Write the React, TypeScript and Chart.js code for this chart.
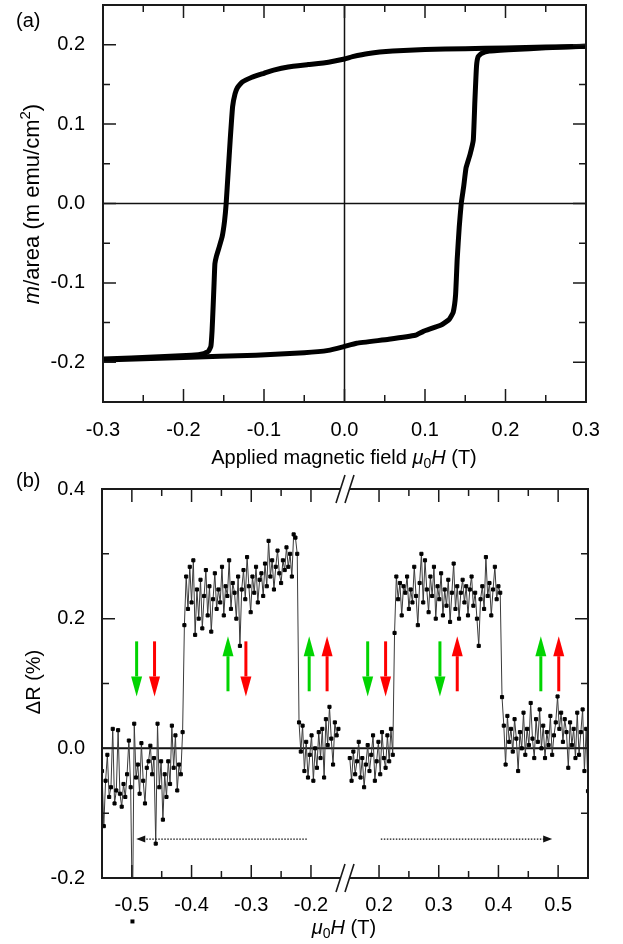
import React, { useEffect, useRef } from 'react';
import { Chart, registerables } from 'chart.js';
Chart.register(...registerables);

const FONT = '"Liberation Sans", Arial, Helvetica, sans-serif';
const TICK_SIZE = 20;
const TITLE_SIZE = 20;

// ---------- Panel (a): hysteresis loop ----------
const loopDownField = [0.3, 0.25, 0.2, 0.15, 0.1, 0.06, 0.03, 0.01, 0.0, -0.02, -0.045, -0.07, -0.088, -0.1, -0.115, -0.127, -0.133, -0.136, -0.139, -0.142, -0.1445, -0.147, -0.149, -0.152, -0.156, -0.159, -0.161, -0.162, -0.1632, -0.1645, -0.166, -0.169, -0.175, -0.19, -0.23, -0.3];
const loopDownMoment = [0.198, 0.197, 0.196, 0.195, 0.194, 0.192, 0.189, 0.185, 0.182, 0.178, 0.175, 0.172, 0.168, 0.164, 0.159, 0.153, 0.146, 0.138, 0.122, 0.08, 0.04, 0.0, -0.022, -0.042, -0.056, -0.066, -0.076, -0.1, -0.13, -0.16, -0.18, -0.186, -0.189, -0.191, -0.193, -0.196];
const loopUpField = [-0.3, -0.2, -0.11, -0.05, -0.02, 0.0, 0.015, 0.055, 0.088, 0.098, 0.12, 0.13, 0.135, 0.138, 0.14, 0.1425, 0.145, 0.148, 0.151, 0.156, 0.16, 0.162, 0.164, 0.166, 0.17, 0.18, 0.21, 0.25, 0.3];
const loopUpMoment = [-0.197, -0.194, -0.191, -0.188, -0.185, -0.18, -0.176, -0.171, -0.166, -0.161, -0.153, -0.146, -0.137, -0.115, -0.07, -0.03, 0.0, 0.021, 0.045, 0.062, 0.08, 0.13, 0.173, 0.185, 0.189, 0.192, 0.194, 0.196, 0.198];
const fieldTicksA = [-0.3, -0.2, -0.1, 0, 0.1, 0.2, 0.3];
const fieldMinorA = [-0.25, -0.15, -0.05, 0.05, 0.15, 0.25];
const momentTicksA = [-0.2, -0.1, 0, 0.1, 0.2];
const momentMinorA = [-0.15, -0.05, 0.05, 0.15];

// ---------- Panel (b): magnetoresistance with broken field axis ----------
const negField = [
  -0.550, -0.547, -0.544, -0.541, -0.538, -0.535, -0.532, -0.529, -0.526, -0.523,
  -0.520, -0.517, -0.514, -0.511, -0.508, -0.505, -0.502, -0.499, -0.496, -0.493,
  -0.490, -0.487, -0.484, -0.481, -0.478, -0.475, -0.472, -0.469, -0.466, -0.463,
  -0.460, -0.457, -0.454, -0.451, -0.448, -0.445, -0.442, -0.439, -0.436, -0.433,
  -0.430, -0.427, -0.424, -0.421, -0.418, -0.415, -0.412, -0.409, -0.406, -0.403,
  -0.400, -0.397, -0.394, -0.391, -0.388, -0.385, -0.382, -0.379, -0.376, -0.373,
  -0.370, -0.367, -0.364, -0.361, -0.358, -0.355, -0.352, -0.349, -0.346, -0.343,
  -0.340, -0.337, -0.334, -0.331, -0.328, -0.325, -0.322, -0.319, -0.316, -0.313,
  -0.310, -0.307, -0.304, -0.301, -0.298, -0.295, -0.292, -0.289, -0.286, -0.283,
  -0.280, -0.277, -0.274, -0.271, -0.268, -0.265, -0.262, -0.259, -0.256, -0.253,
  -0.250, -0.247, -0.244, -0.241, -0.238, -0.235, -0.232, -0.229, -0.226, -0.223,
  -0.220, -0.217, -0.214, -0.211, -0.208, -0.205, -0.202, -0.199, -0.196, -0.193,
  -0.190, -0.187, -0.184, -0.181, -0.178, -0.175, -0.172, -0.169, -0.166, -0.163,
  -0.160, -0.157, -0.154,
];
const negDeltaR = [
  -0.035, -0.120, -0.050, -0.010, -0.075, -0.060, 0.030, -0.085, -0.065, 0.028,
  -0.070, -0.090, -0.055, -0.075, -0.040, 0.012, -0.060, -0.267, 0.038, -0.045,
  -0.025, -0.070, 0.008, -0.050, -0.085, -0.030, -0.020, 0.004, -0.040, -0.015,
  -0.147, 0.038, -0.060, -0.020, -0.110, -0.040, -0.075, -0.020, -0.055, 0.035,
  -0.030, 0.020, -0.065, -0.025, -0.040, 0.025, 0.190, 0.265, 0.215, 0.280,
  0.225, 0.290, 0.175, 0.245, 0.200, 0.260, 0.185, 0.235, 0.275, 0.205,
  0.250, 0.180, 0.230, 0.270, 0.215, 0.245, 0.225, 0.280, 0.205, 0.250,
  0.235, 0.290, 0.215, 0.255, 0.240, 0.200, 0.265, 0.158, 0.245, 0.275,
  0.230, 0.295, 0.250, 0.210, 0.265, 0.240, 0.280, 0.225, 0.260, 0.270,
  0.235, 0.285, 0.250, 0.320, 0.265, 0.290, 0.245, 0.280, 0.305, 0.270,
  0.255, 0.290, 0.275, 0.310, 0.280, 0.300, 0.265, 0.330, 0.325, 0.300,
  0.040, -0.005, 0.035, -0.035, 0.010, -0.045, -0.010, 0.020, -0.050, 0.000,
  -0.030, 0.025, -0.015, 0.030, -0.045, 0.045, 0.005, 0.064, 0.015, -0.025,
  0.040, 0.020, 0.030,
];
const posField = [
  0.151, 0.154, 0.157, 0.160, 0.163, 0.166, 0.169, 0.172, 0.175, 0.178,
  0.181, 0.184, 0.187, 0.190, 0.193, 0.196, 0.199, 0.202, 0.205, 0.208,
  0.211, 0.214, 0.217, 0.220, 0.223, 0.226, 0.229, 0.232, 0.235, 0.238,
  0.241, 0.244, 0.247, 0.250, 0.253, 0.256, 0.259, 0.262, 0.265, 0.268,
  0.271, 0.274, 0.277, 0.280, 0.283, 0.286, 0.289, 0.292, 0.295, 0.298,
  0.301, 0.304, 0.307, 0.310, 0.313, 0.316, 0.319, 0.322, 0.325, 0.328,
  0.331, 0.334, 0.337, 0.340, 0.343, 0.346, 0.349, 0.352, 0.355, 0.358,
  0.361, 0.364, 0.367, 0.370, 0.373, 0.376, 0.379, 0.382, 0.385, 0.388,
  0.391, 0.394, 0.397, 0.400, 0.403, 0.406, 0.409, 0.412, 0.415, 0.418,
  0.421, 0.424, 0.427, 0.430, 0.433, 0.436, 0.439, 0.442, 0.445, 0.448,
  0.451, 0.454, 0.457, 0.460, 0.463, 0.466, 0.469, 0.472, 0.475, 0.478,
  0.481, 0.484, 0.487, 0.490, 0.493, 0.496, 0.499, 0.502, 0.505, 0.508,
  0.511, 0.514, 0.517, 0.520, 0.523, 0.526, 0.529, 0.532, 0.535, 0.538,
  0.541, 0.544, 0.547, 0.550,
];
const posDeltaR = [
  -0.015, -0.050, -0.005, -0.040, -0.020, 0.010, -0.045, -0.015, -0.060, -0.025,
  0.005, -0.035, -0.010, 0.020, -0.050, -0.020, 0.010, -0.040, 0.025, -0.015,
  -0.030, 0.020, -0.020, 0.030, -0.010, 0.178, 0.265, 0.230, 0.255, 0.205,
  0.250, 0.240, 0.265, 0.215, 0.245, 0.225, 0.280, 0.235, 0.190, 0.255,
  0.300, 0.225, 0.290, 0.245, 0.210, 0.265, 0.235, 0.280, 0.200, 0.250,
  0.230, 0.270, 0.205, 0.245, 0.220, 0.260, 0.195, 0.240, 0.285, 0.215,
  0.250, 0.200, 0.240, 0.260, 0.225, 0.250, 0.205, 0.245, 0.265, 0.220,
  0.240, 0.200, 0.158, 0.230, 0.250, 0.215, 0.295, 0.235, 0.255, 0.205,
  0.245, 0.280, 0.230, 0.250, 0.240, 0.079, 0.035, -0.025, 0.050, 0.010,
  0.030, -0.005, 0.045, 0.015, -0.035, 0.025, 0.000, 0.055, -0.010, 0.030,
  0.005, 0.070, 0.015, -0.015, 0.045, 0.010, 0.060, 0.000, 0.035, -0.015,
  0.025, 0.005, 0.050, -0.010, 0.020, 0.040, 0.080, 0.030, 0.055, 0.010,
  0.045, 0.025, -0.030, 0.040, 0.005, 0.030, -0.015, 0.055, -0.010, 0.025,
  0.060, -0.035, 0.030, -0.066,
];
const outlierField = [-0.499];
const outlierDeltaR = [-0.267];
const fieldTicksB = [-0.5, -0.4, -0.3, -0.2, 0.2, 0.3, 0.4, 0.5];
const fieldMinorB = [-0.45, -0.35, -0.25, 0.25, 0.35, 0.45];
const deltaRTicks = [-0.2, 0.0, 0.2, 0.4];
const deltaRMinor = [-0.1, 0.1, 0.3];
const BREAK_GAP = 0.143; // field hidden on each side of the axis break
const FIELD_EDGE = 0.55;

// spin-configuration arrows (field position, colour, direction)
const arrowField = [-0.492, -0.462, -0.339, -0.309, -0.203, -0.173, 0.181, 0.211, 0.302, 0.331, 0.471, 0.501];
const arrowColor = ['g', 'r', 'g', 'r', 'g', 'r', 'g', 'r', 'g', 'r', 'g', 'r'];
const arrowDir = ['down', 'down', 'up', 'down', 'up', 'up', 'down', 'down', 'down', 'up', 'up', 'up'];
const arrowDownSpan = [0.165, 0.080];
const arrowUpSpan = [0.088, 0.173];
// sweep-direction dotted arrows
const sweepFrom = [-0.207, 0.203];
const sweepTo = [-0.4926, 0.49];
const sweepLevel = -0.14;

const toU = (x: number) => (x < 0 ? x + BREAK_GAP : x - BREAK_GAP);
const fromU = (u: number) => (u < 0 ? u - BREAK_GAP : u + BREAK_GAP);
const fmt1 = (v: number) => (Math.abs(v) < 1e-9 ? 0 : v).toFixed(1);

type Seg = { t: string; it?: boolean; sub?: boolean; sup?: boolean };

function drawRich(ctx: CanvasRenderingContext2D, segs: Seg[], x: number, y: number, size: number, rotate = false) {
  ctx.save();
  ctx.translate(x, y);
  if (rotate) ctx.rotate(-Math.PI / 2);
  const fontFor = (s: Seg) => `${s.it ? 'italic ' : ''}${s.sub || s.sup ? Math.round(size * 0.68) : size}px ${FONT}`;
  let w = 0;
  segs.forEach((s) => {
    ctx.font = fontFor(s);
    w += ctx.measureText(s.t).width;
  });
  let cx = -w / 2;
  ctx.textBaseline = 'alphabetic';
  ctx.textAlign = 'left';
  ctx.fillStyle = '#000';
  segs.forEach((s) => {
    ctx.font = fontFor(s);
    const dy = s.sub ? size * 0.22 : s.sup ? -size * 0.42 : 0;
    ctx.fillText(s.t, cx, dy);
    cx += ctx.measureText(s.t).width;
  });
  ctx.restore();
}

function drawFrameTicks(chart: any, xMajor: number[], xMinor: number[], yMajor: number[], yMinor: number[]) {
  const { ctx, chartArea: ca, scales } = chart;
  ctx.save();
  ctx.strokeStyle = '#1a1a1a';
  ctx.lineWidth = 1.5;
  ctx.beginPath();
  const xt = (v: number, len: number) => {
    const px = scales.x.getPixelForValue(v);
    ctx.moveTo(px, ca.bottom);
    ctx.lineTo(px, ca.bottom - len);
    ctx.moveTo(px, ca.top);
    ctx.lineTo(px, ca.top + len);
  };
  const yt = (v: number, len: number) => {
    const py = scales.y.getPixelForValue(v);
    ctx.moveTo(ca.left, py);
    ctx.lineTo(ca.left + len, py);
    ctx.moveTo(ca.right, py);
    ctx.lineTo(ca.right - len, py);
  };
  xMajor.forEach((v) => xt(v, 13));
  xMinor.forEach((v) => xt(v, 7));
  yMajor.forEach((v) => yt(v, 13));
  yMinor.forEach((v) => yt(v, 7));
  ctx.stroke();
  ctx.lineWidth = 2;
  ctx.strokeRect(ca.left, ca.top, ca.right - ca.left, ca.bottom - ca.top);
  ctx.restore();
}

function drawBreak(ctx: CanvasRenderingContext2D, px: number, y: number) {
  ctx.save();
  ctx.fillStyle = '#fff';
  ctx.fillRect(px - 4.5, y - 2, 9, 4);
  ctx.strokeStyle = '#1a1a1a';
  ctx.lineWidth = 1.6;
  ctx.beginPath();
  [-4.5, 4.5].forEach((dx) => {
    ctx.moveTo(px + dx - 4.5, y + 14);
    ctx.lineTo(px + dx + 4.5, y - 14);
  });
  ctx.stroke();
  ctx.restore();
}

function drawSpinArrow(ctx: CanvasRenderingContext2D, x: number, yTail: number, yTip: number, color: string) {
  const dir = yTip > yTail ? 1 : -1;
  const headLen = 20;
  const headHalf = 5.5;
  const shaft = 3;
  const yBase = yTip - dir * headLen;
  ctx.fillStyle = color;
  ctx.fillRect(x - shaft / 2, Math.min(yTail, yBase), shaft, Math.abs(yBase - yTail));
  ctx.beginPath();
  ctx.moveTo(x - headHalf, yBase);
  ctx.lineTo(x + headHalf, yBase);
  ctx.lineTo(x, yTip);
  ctx.closePath();
  ctx.fill();
}

const tickFont = { family: FONT, size: TICK_SIZE };

function configA(): any {
  const deco = {
    id: 'decoA',
    beforeDatasetsDraw(chart: any) {
      const { ctx, chartArea: ca, scales } = chart;
      ctx.save();
      ctx.strokeStyle = '#111';
      ctx.lineWidth = 1.5;
      const x0 = scales.x.getPixelForValue(0);
      const y0 = scales.y.getPixelForValue(0);
      ctx.beginPath();
      ctx.moveTo(x0, ca.top);
      ctx.lineTo(x0, ca.bottom);
      ctx.moveTo(ca.left, y0);
      ctx.lineTo(ca.right, y0);
      ctx.stroke();
      ctx.restore();
    },
    afterDraw(chart: any) {
      const { ctx } = chart;
      drawFrameTicks(chart, fieldTicksA, fieldMinorA, momentTicksA, momentMinorA);
      drawRich(ctx, [{ t: 'Applied magnetic field ' }, { t: 'μ', it: true }, { t: '0', sub: true }, { t: 'H', it: true }, { t: ' (T)' }], 344, 464, TITLE_SIZE);
      drawRich(ctx, [{ t: 'm', it: true }, { t: '/area (m emu/cm' }, { t: '2', sup: true }, { t: ')' }], 39, 204, 22, true);
      ctx.save();
      ctx.font = `${TITLE_SIZE}px ${FONT}`;
      ctx.fillStyle = '#000';
      ctx.textAlign = 'left';
      ctx.textBaseline = 'alphabetic';
      ctx.fillText('(a)', 16, 27);
      ctx.restore();
    },
  };
  const pts = (xs: number[], ys: number[]) => xs.map((x, i) => ({ x, y: ys[i] }));
  const line = {
    showLine: true,
    borderColor: '#000',
    borderWidth: 5,
    pointRadius: 0,
    tension: 0.12,
    borderJoinStyle: 'round',
    borderCapStyle: 'round',
  };
  return {
    type: 'scatter',
    data: {
      datasets: [
        { ...line, data: pts(loopDownField, loopDownMoment) },
        { ...line, data: pts(loopUpField, loopUpMoment) },
      ],
    },
    options: {
      responsive: false,
      animation: false,
      events: [],
      layout: { padding: { left: 0, right: 37, top: 5, bottom: 0 } },
      plugins: { legend: { display: false }, tooltip: { enabled: false } },
      scales: {
        x: {
          type: 'linear',
          min: -0.3,
          max: 0.3,
          grid: { display: false, drawTicks: false },
          border: { display: false },
          ticks: { font: tickFont, color: '#000', padding: 16, autoSkip: false, maxRotation: 0, minRotation: 0, callback: (v: any) => fmt1(Number(v)) },
          afterBuildTicks: (s: any) => { s.ticks = fieldTicksA.map((v) => ({ value: v })); },
          afterFit: (s: any) => { s.height = 73; s.paddingLeft = 0; s.paddingRight = 0; },
        },
        y: {
          type: 'linear',
          min: -0.25,
          max: 0.25,
          grid: { display: false, drawTicks: false },
          border: { display: false },
          ticks: { font: tickFont, color: '#000', padding: 18, autoSkip: false, callback: (v: any) => fmt1(Number(v)) },
          afterBuildTicks: (s: any) => { s.ticks = momentTicksA.map((v) => ({ value: v })); },
          afterFit: (s: any) => { s.width = 103; s.paddingTop = 0; s.paddingBottom = 0; },
        },
      },
    },
    plugins: [deco],
  };
}

function configB(): any {
  const deco = {
    id: 'decoB',
    beforeDatasetsDraw(chart: any) {
      const { ctx, chartArea: ca, scales } = chart;
      ctx.save();
      ctx.strokeStyle = '#111';
      ctx.lineWidth = 2;
      const y0 = scales.y.getPixelForValue(0);
      ctx.beginPath();
      ctx.moveTo(ca.left, y0);
      ctx.lineTo(ca.right, y0);
      ctx.stroke();
      ctx.restore();
    },
    afterDatasetsDraw(chart: any) {
      const { ctx, scales } = chart;
      ctx.save();
      arrowField.forEach((f, i) => {
        const px = scales.x.getPixelForValue(toU(f));
        const span = arrowDir[i] === 'down' ? arrowDownSpan : arrowUpSpan;
        const yTail = scales.y.getPixelForValue(span[0]);
        const yTip = scales.y.getPixelForValue(span[1]);
        drawSpinArrow(ctx, px, yTail, yTip, arrowColor[i] === 'g' ? '#00d400' : '#ff0000');
      });
      // sweep arrows
      const py = scales.y.getPixelForValue(sweepLevel);
      sweepFrom.forEach((f, i) => {
        const x1 = scales.x.getPixelForValue(toU(f));
        const x2 = scales.x.getPixelForValue(toU(sweepTo[i]));
        const dir = x2 > x1 ? 1 : -1;
        ctx.strokeStyle = '#111';
        ctx.lineWidth = 1.2;
        ctx.setLineDash([1.5, 1.5]);
        ctx.beginPath();
        ctx.moveTo(x1, py);
        ctx.lineTo(x2 - dir * 7, py);
        ctx.stroke();
        ctx.setLineDash([]);
        ctx.fillStyle = '#111';
        ctx.beginPath();
        ctx.moveTo(x2, py);
        ctx.lineTo(x2 - dir * 9, py - 3.5);
        ctx.lineTo(x2 - dir * 9, py + 3.5);
        ctx.closePath();
        ctx.fill();
      });
      ctx.restore();
    },
    afterDraw(chart: any) {
      const { ctx, chartArea: ca, scales } = chart;
      drawFrameTicks(chart, fieldTicksB.map(toU), fieldMinorB.map(toU), deltaRTicks, deltaRMinor);
      const bx = scales.x.getPixelForValue(0);
      drawBreak(ctx, bx, ca.top);
      drawBreak(ctx, bx, ca.bottom);
      // outlier measurement that falls below the plotted range (marker shown unclipped)
      ctx.save();
      ctx.fillStyle = '#000';
      outlierField.forEach((f, i) => {
        const px = scales.x.getPixelForValue(toU(f));
        const py = scales.y.getPixelForValue(outlierDeltaR[i]);
        ctx.fillRect(px - 2, py - 2, 4, 4);
      });
      ctx.restore();
      drawRich(ctx, [{ t: 'μ', it: true }, { t: '0', sub: true }, { t: 'H', it: true }, { t: ' (T)' }], 344, 934 - 455, TITLE_SIZE);
      drawRich(ctx, [{ t: 'ΔR (%)' }], 40, 682 - 455, TITLE_SIZE, true);
      ctx.save();
      ctx.font = `${TITLE_SIZE}px ${FONT}`;
      ctx.fillStyle = '#000';
      ctx.textAlign = 'left';
      ctx.textBaseline = 'alphabetic';
      ctx.fillText('(b)', 16, 487 - 455);
      ctx.restore();
    },
  };
  const pts = (xs: number[], ys: number[]) => xs.map((x, i) => ({ x: toU(x), y: ys[i] }));
  const series = {
    showLine: true,
    borderColor: '#3a3a3a',
    borderWidth: 1,
    pointStyle: 'rect',
    pointRadius: 2.2,
    pointBorderWidth: 1,
    pointBackgroundColor: '#000',
    pointBorderColor: '#000',
    tension: 0,
  };
  return {
    type: 'scatter',
    data: {
      datasets: [
        { ...series, data: pts(negField, negDeltaR) },
        { ...series, data: pts(posField, posDeltaR) },
      ],
    },
    options: {
      responsive: false,
      animation: false,
      events: [],
      layout: { padding: { left: 0, right: 35, top: 34, bottom: 0 } },
      plugins: { legend: { display: false }, tooltip: { enabled: false } },
      scales: {
        x: {
          type: 'linear',
          min: toU(-FIELD_EDGE),
          max: toU(FIELD_EDGE),
          grid: { display: false, drawTicks: false },
          border: { display: false },
          ticks: { font: tickFont, color: '#000', padding: 15, autoSkip: false, maxRotation: 0, minRotation: 0, callback: (v: any) => fmt1(Math.round(fromU(Number(v)) * 10) / 10) },
          afterBuildTicks: (s: any) => { s.ticks = fieldTicksB.map((v) => ({ value: toU(v) })); },
          afterFit: (s: any) => { s.height = 66; s.paddingLeft = 0; s.paddingRight = 0; },
        },
        y: {
          type: 'linear',
          min: -0.2,
          max: 0.4,
          grid: { display: false, drawTicks: false },
          border: { display: false },
          ticks: { font: tickFont, color: '#000', padding: 17, autoSkip: false, callback: (v: any) => fmt1(Number(v)) },
          afterBuildTicks: (s: any) => { s.ticks = deltaRTicks.map((v) => ({ value: v })); },
          afterFit: (s: any) => { s.width = 102; s.paddingTop = 0; s.paddingBottom = 0; },
        },
      },
    },
    plugins: [deco],
  };
}

export default function App() {
  const refA = useRef<HTMLCanvasElement>(null);
  const refB = useRef<HTMLCanvasElement>(null);
  useEffect(() => {
    const a = new Chart(refA.current as HTMLCanvasElement, configA());
    const b = new Chart(refB.current as HTMLCanvasElement, configB());
    return () => {
      a.destroy();
      b.destroy();
    };
  }, []);
  return (
    <div style={{ position: 'absolute', left: 0, top: 0, width: 623, height: 944, background: '#fff' }}>
      <canvas ref={refA} width={623} height={475} style={{ position: 'absolute', left: 0, top: 0 }} />
      <canvas ref={refB} width={623} height={489} style={{ position: 'absolute', left: 0, top: 455 }} />
    </div>
  );
}
